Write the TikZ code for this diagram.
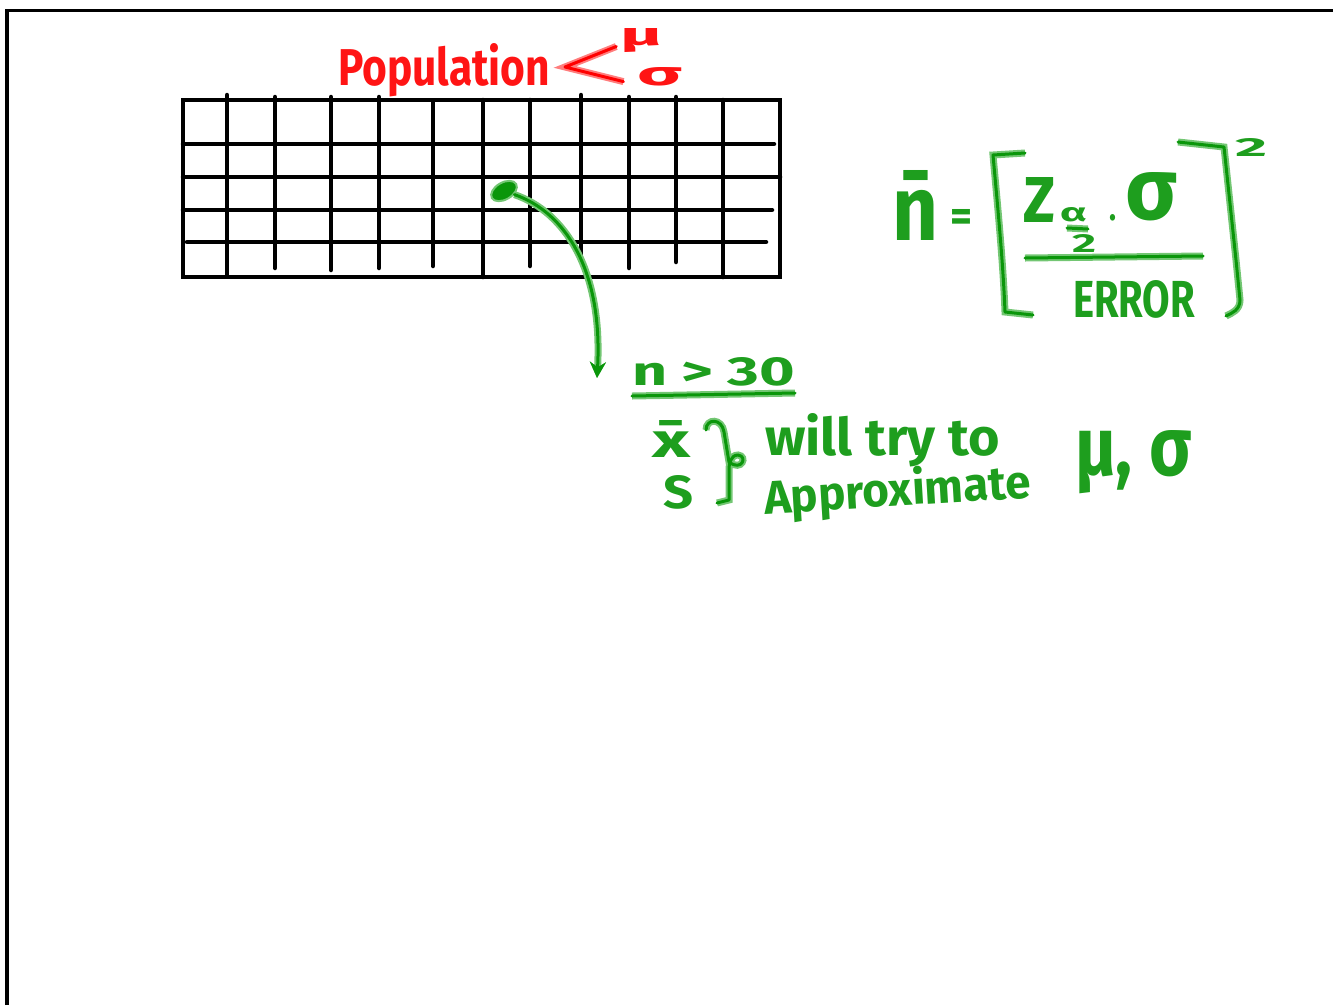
\documentclass[tikz,border=0pt]{standalone}
\usepackage{fontspec}
\setmainfont{Fira Sans}
\usepackage{graphicx}
\usetikzlibrary{arrows.meta,shapes.geometric}
\definecolor{gd}{RGB}{10,150,10}
\definecolor{gl}{RGB}{115,198,115}
\definecolor{gt}{RGB}{30,158,30}
\definecolor{rd}{RGB}{255,0,0}
\definecolor{rl}{RGB}{255,125,125}
\definecolor{rt}{RGB}{255,20,20}
% #1 colour, #2 width, #3 height (baseline to top), #4 text
\newcommand{\hw}[4]{\resizebox{#2pt}{#3pt}{\fontsize{30}{30}\selectfont\bfseries\color{#1}#4}}
\newcommand{\gtx}[3]{\hw{gt}{#1}{#2}{#3}}
\newcommand{\rtx}[3]{\hw{rt}{#1}{#2}{#3}}
\tikzset{
  txt/.style={inner sep=0pt, outer sep=0pt, anchor=base west},
  gline/.style={draw=gd, line width=3pt, line cap=round, line join=round,
                preaction={draw=gl, line width=7pt}},
  rline/.style={draw=rd, line width=3pt, line cap=round, line join=round,
                preaction={draw=rl, line width=7pt}},
  gridline/.style={draw=black, line width=4.5pt, line cap=round},
}
\begin{document}
\begin{tikzpicture}[x=1pt,y=-1pt]
\useasboundingbox (0,0) rectangle (1333,1005);
% frame
\draw[line width=3.5pt] (7,1005) -- (7,10.5) -- (1333,10.5);

% grid (population)
\draw[draw=black, line width=4.5pt] (183,100) rectangle (780,277);
\draw[gridline] (183,144) -- (774,144);
\draw[gridline] (183,177) -- (780,177);
\draw[gridline] (183,210) -- (772,210);
\draw[gridline] (187,242) -- (766,242);
\draw[gridline] (227,95) -- (227,275);
\draw[gridline] (275,97) -- (275,268);
\draw[gridline] (331,97) -- (331,270);
\draw[gridline] (379,97) -- (379,268);
\draw[gridline] (433,101) -- (433,266);
\draw[gridline] (483,100) -- (483,277);
\draw[gridline] (530,100) -- (530,266);
\draw[gridline] (581,95) -- (581,262);
\draw[gridline] (629,97) -- (629,268);
\draw[gridline] (676,97) -- (676,262);
\draw[gridline] (723,100) -- (723,277);

% red title
\node[txt] (pop) at (338,85) {\rtx{212}{42}{Population}};
\node[txt] (mu) at (620,45) {\rtx{42}{17}{μ}};
\node[txt] (sig) at (637,85) {\rtx{45}{18}{σ}};
\coordinate (apex) at (565,67);
\draw[rline, shorten <=4pt, shorten >=14pt] (mu.base west) -- (apex) -- (sig.base west);

% sample scribble and arrow
\node[ellipse, fill=gd, draw=gl, line width=2pt, minimum width=28pt, minimum height=17pt,
      rotate=30, inner sep=0pt] (scrib) at (504,191) {};
\coordinate (tip) at (597,378);
\draw[gline, -{Stealth[length=16pt,width=16pt]}] (scrib) .. controls (565,212) and (603,270) .. (tip);

% n > 30
\node[txt] (ngt) at (632,385) {\gtx{163}{28}{n > 30}};
\draw[gline] ([yshift=-11pt]ngt.base west) -- ([yshift=-8pt]ngt.base east);

% xbar, S, brace
\node[txt] (xbar) at (652,457) {\gtx{38}{37}{\=x}};
\node[txt] (s) at (663,508) {\gtx{30}{33}{S}};
\draw[gline] (706,430) .. controls (706,418) and (722,418) .. (724,432) -- (729,462)
   .. controls (742,472) and (748,456) .. (738,455) .. controls (730,455) and (729,465) .. (729,470)
   -- (729,500) -- (717,503);
\node[txt] (will) at (765,455) {\gtx{235}{42}{will try to}};
\node[txt, rotate=3.5] (approx) at (765,514) {\gtx{267}{38}{Approximate}};
\node[txt] (musig) at (1075,475) {\gtx{117}{45}{μ, σ}};

% formula
\node[txt] (nbar) at (892,240) {\gtx{46}{70}{\=n}};
\node[txt] (eq) at (950,231) {\gtx{22}{22}{=}};
\draw[gline] (1025,153) -- (993,155) .. controls (997,200) and (1003,260) .. (1005,312) -- (1033,315);
\node[txt] (z) at (1023,222) {\gtx{32}{45}{Z}};
\node[txt] (alpha) at (1060,221) {\gtx{27}{14}{α}};
\draw[gline] (1067,228) -- (1088,229);
\node[txt] (two) at (1072,252) {\gtx{24}{18}{2}};
\node[txt] (dot) at (1109,220) {\gtx{7}{6}{.}};
\node[txt] (sigf) at (1125,219) {\gtx{52}{47}{σ}};
\draw[gline] (1025,258) -- (1203,256);
\node[txt] (err) at (1073,317) {\gtx{122}{37}{ERROR}};
\draw[gline] (1178,142) -- (1224,147) -- (1236,260) -- (1240,300)
   .. controls (1240,310) and (1232,313) .. (1226,316);
\node[txt] (sq) at (1235,156) {\gtx{32}{18}{2}};
\end{tikzpicture}
\end{document}
